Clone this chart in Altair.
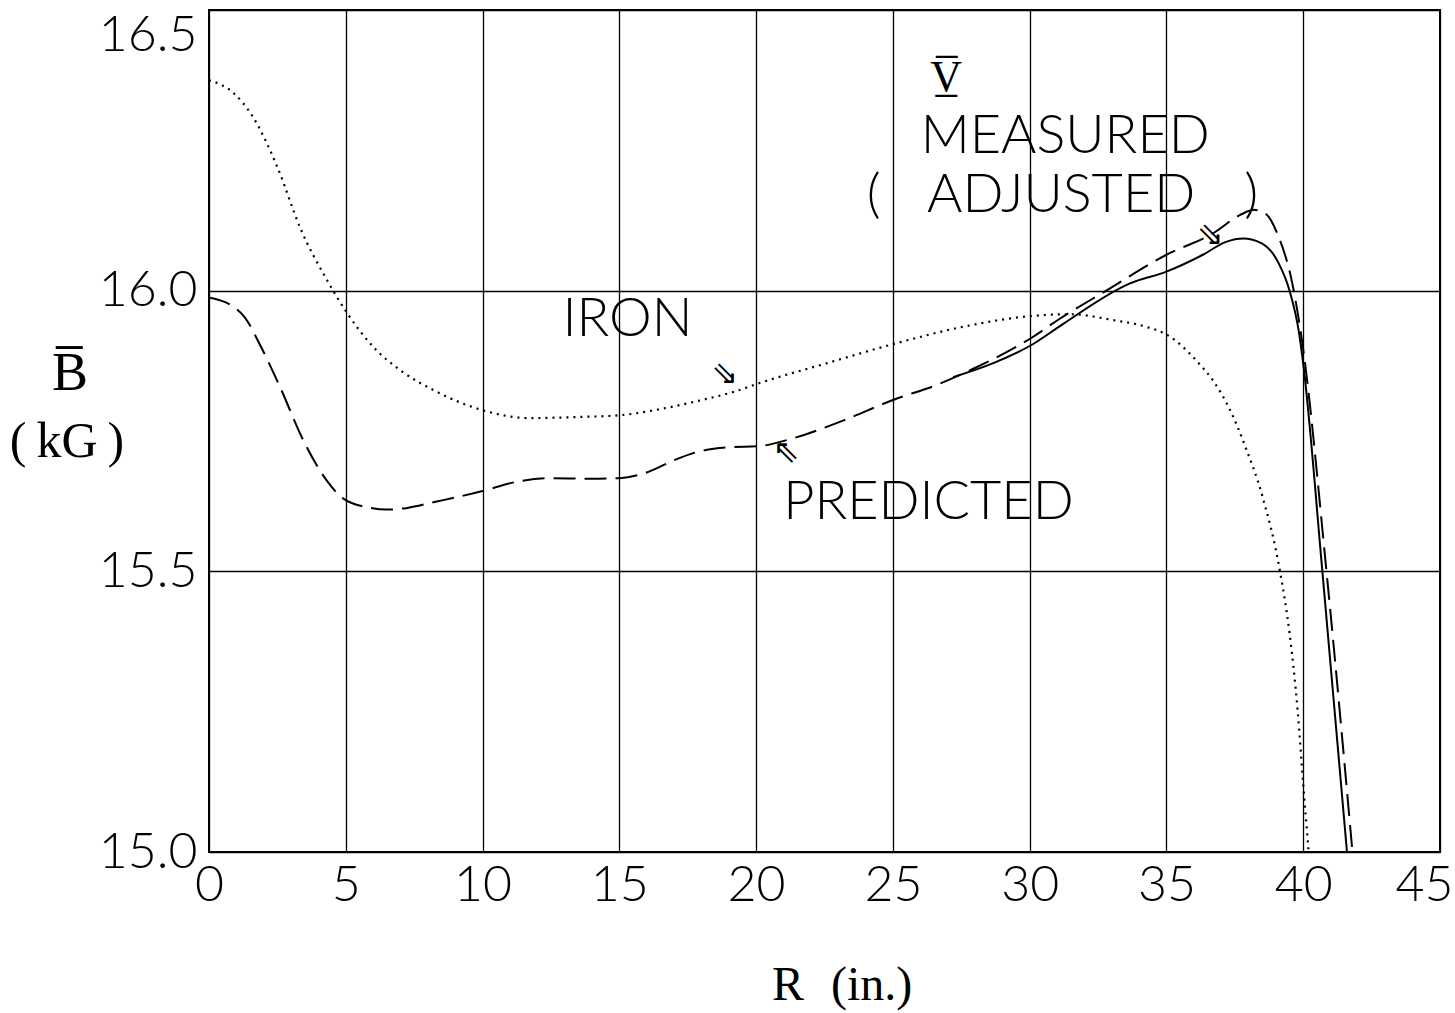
import altair as alt
import pandas as pd

# ---- data ----
iron_r = [0.0, 0.9, 1.6, 2.5, 3.35, 4.3, 5.05, 6.0, 7.0, 8.2, 10.0, 11.7, 13.5, 15.0,
          16.6, 18.0, 19.2, 20.1, 22.6, 25.1, 27.5, 30.1, 31.5, 33.0, 34.3, 35.0,
          35.6, 36.1, 36.7, 37.3, 37.9, 38.5, 39.15, 39.5, 39.8, 40.0, 40.2]
iron_b = [16.375, 16.352, 16.31, 16.22, 16.11, 16.02, 15.96, 15.9, 15.858, 15.823, 15.787,
          15.773, 15.775, 15.778, 15.79, 15.805, 15.82, 15.835, 15.871, 15.906, 15.935,
          15.955, 15.958, 15.948, 15.935, 15.922, 15.90, 15.875, 15.84, 15.79, 15.72,
          15.635, 15.5, 15.39, 15.25, 15.12, 15.0]

pred_r = [0.0, 0.9, 1.3, 1.9, 2.6, 3.45, 4.3, 4.9, 5.8, 6.5, 7.25, 8.2, 10.0, 11.1, 12.4,
          13.9, 15.0, 16.0, 17.0, 17.8, 19.0, 20.1, 21.35, 23.2, 25.1, 26.6, 27.9, 30.1,
          31.1, 32.8, 35.0, 36.7, 37.7, 38.2, 38.6, 39.1, 39.6, 39.97, 40.85, 41.8]
pred_b = [15.988, 15.971, 15.953, 15.9, 15.828, 15.733, 15.662, 15.63, 15.614, 15.61,
          15.613, 15.623, 15.643, 15.658, 15.666, 15.665, 15.666, 15.676, 15.698, 15.712,
          15.721, 15.723, 15.737, 15.769, 15.807, 15.832, 15.86, 15.917, 15.95, 16.0,
          16.064, 16.102, 16.135, 16.144, 16.138, 16.096, 16.013, 15.906, 15.5, 15.0]

meas_r = [27.2, 28.67, 30.13, 31.2, 33.67, 35.0, 36.33, 37.18, 37.8, 38.5, 39.1, 39.5,
          39.85, 40.0, 40.7, 41.6]
meas_b = [15.846, 15.871, 15.905, 15.94, 16.013, 16.034, 16.064, 16.087, 16.093, 16.084,
          16.049, 16.0, 15.924, 15.87, 15.5, 15.0]

x_ticks = [0, 5, 10, 15, 20, 25, 30, 35, 40, 45]
y_ticks = [15.0, 15.5, 16.0, 16.5]

# annotation labels (text, R, B)
label_text = ["IRON", "PREDICTED", "MEASURED", "ADJUSTED", "(", ")"]
label_r = [15.3, 26.3, 31.3, 31.15, 24.3, 38.1]
label_b = [15.947, 15.621, 16.274, 16.168, 16.168, 16.168]

arrow_text = ["\u21d8", "\u21d6", "\u21d8"]
arrow_r = [18.85, 21.1, 36.6]
arrow_b = [15.852, 15.712, 16.10]

mark_text_v = ["V\u0305\u0332"]
mark_r = [26.95]
mark_b = [16.378]

series = pd.concat([
    pd.DataFrame({"R": iron_r, "B": iron_b, "s": "iron"}),
    pd.DataFrame({"R": pred_r, "B": pred_b, "s": "predicted"}),
    pd.DataFrame({"R": meas_r, "B": meas_b, "s": "measured"}),
], ignore_index=True)

labels = pd.DataFrame({"R": label_r, "B": label_b, "t": label_text})
arrows = pd.DataFrame({"R": arrow_r, "B": arrow_b, "t": arrow_text})
vmark = pd.DataFrame({"R": mark_r, "B": mark_b, "t": mark_text_v})

xs = alt.Scale(domain=[0, 45], nice=False, zero=False)
ys = alt.Scale(domain=[15.0, 16.5], nice=False, zero=False)

X = alt.X("R:Q", scale=xs, title=None,
          axis=alt.Axis(values=x_ticks, format="d", labelPadding=8, labelAlign="center",
                        labelOffset={"condition": {"test": "datum.value == 45", "value": -16},
                                     "value": 0}))
Y = alt.Y("B:Q", scale=ys, title=None,
          axis=alt.Axis(values=y_ticks, format=".1f", labelPadding=12,
                        labelBaseline={"condition": {"test": "datum.value == 16.5", "value": "top"},
                                       "value": "middle"}))

base = alt.Chart(series).encode(x=X, y=Y)

iron = base.transform_filter(alt.datum.s == "iron").mark_line(
    color="black", strokeWidth=2.2, strokeDash=[2, 5], interpolate="monotone", clip=True)
pred = base.transform_filter(alt.datum.s == "predicted").mark_line(
    color="black", strokeWidth=2, strokeDash=[22, 9], interpolate="monotone", clip=True)
meas = base.transform_filter(alt.datum.s == "measured").mark_line(
    color="black", strokeWidth=2, interpolate="monotone", clip=True)

lab = alt.Chart(labels).mark_text(
    font="Lato", fontWeight=300, fontSize=54, color="black", align="center", baseline="middle"
).encode(x=alt.X("R:Q", scale=xs), y=alt.Y("B:Q", scale=ys), text="t:N")

arr = alt.Chart(arrows).mark_text(
    font="DejaVu Sans", fontSize=32, color="black", align="center", baseline="middle"
).encode(x=alt.X("R:Q", scale=xs), y=alt.Y("B:Q", scale=ys), text="t:N")

vm = alt.Chart(vmark).mark_text(
    font="Liberation Serif", fontSize=44, color="black", align="center", baseline="middle"
).encode(x=alt.X("R:Q", scale=xs), y=alt.Y("B:Q", scale=ys), text="t:N")

# axis titles as text
xt_r = alt.Chart(pd.DataFrame({"t": ["R"]})).mark_text(
    font="Liberation Serif", fontSize=48, color="black", align="left", baseline="alphabetic"
).encode(x=alt.value(563), y=alt.value(990), text="t:N")
xt_in = alt.Chart(pd.DataFrame({"t": ["(in.)"]})).mark_text(
    font="Liberation Serif", fontSize=48, color="black", align="left", baseline="alphabetic"
).encode(x=alt.value(622), y=alt.value(990), text="t:N")
yt_b = alt.Chart(pd.DataFrame({"t": ["B\u0305"]})).mark_text(
    font="Liberation Serif", fontSize=54, color="black", align="center", baseline="alphabetic"
).encode(x=alt.value(-139), y=alt.value(380), text="t:N")
yt_kg = alt.Chart(pd.DataFrame({"t": ["(\u2009kG\u2009)"]})).mark_text(
    font="Liberation Serif", fontSize=50, color="black", align="center", baseline="alphabetic"
).encode(x=alt.value(-142), y=alt.value(447), text="t:N")

chart = alt.layer(iron, pred, meas, lab, arr, vm, xt_r, xt_in, yt_b, yt_kg).properties(
    width=1231, height=842,
    padding={"left": 209, "top": 10, "right": 15, "bottom": 161},
    autosize=alt.AutoSizeParams(type="none"),
    background="white",
).configure_view(
    stroke="black", strokeWidth=2
).configure_axis(
    grid=True, gridColor="black", gridWidth=1.3, gridOpacity=1,
    domain=False, ticks=False,
    labelFont="Lato", labelFontWeight=300, labelFontSize=50, labelColor="black",
)

chart.save("out.html", embed_options={"renderer": "svg", "actions": False})
